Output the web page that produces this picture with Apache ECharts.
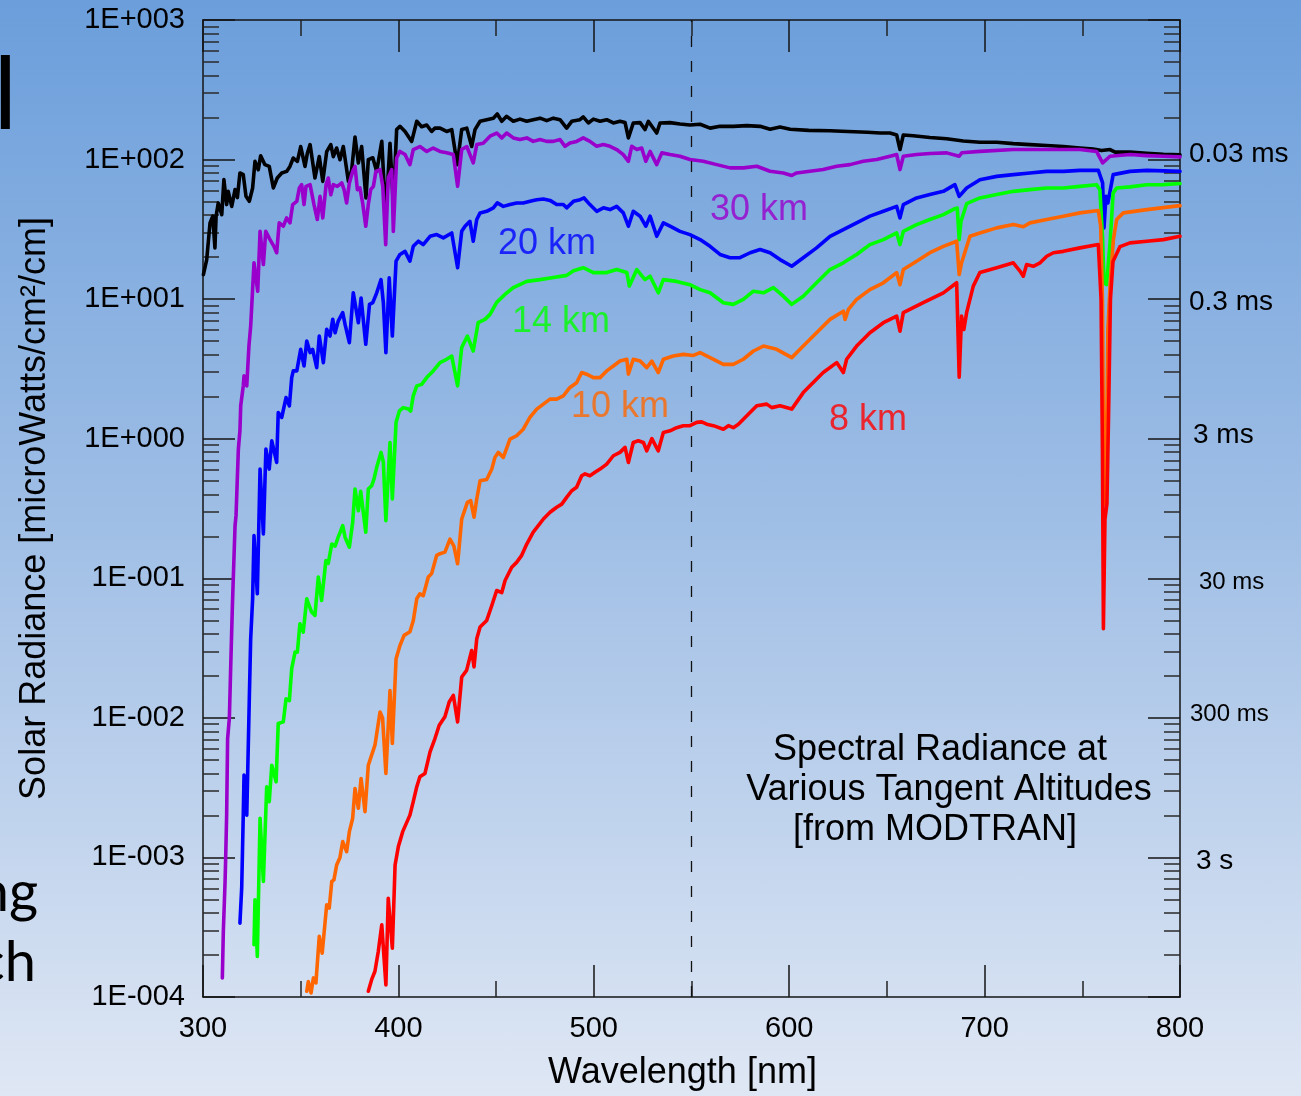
<!DOCTYPE html>
<html>
<head>
<meta charset="utf-8">
<script src="https://cdn.jsdelivr.net/npm/echarts@6/dist/echarts.min.js"></script>
<style>
  html, body { margin: 0; padding: 0; width: 1301px; height: 1096px; overflow: hidden;
    background: linear-gradient(to bottom, #6b9edb 0%, #a2c0e6 50%, #dfe7f4 100%); }
  #chart { width: 1301px; height: 1096px; }
</style>
</head>
<body>
<div id="chart"></div>
<script>
// ---- Axis ranges and tick labels ----
const wavelengthTicks = [300, 400, 500, 600, 700, 800];
const decadeTicks = [1e-4, 1e-3, 1e-2, 1e-1, 1e0, 1e1, 1e2, 1e3];
const decadeLabels = ['1E-004', '1E-003', '1E-002', '1E-001', '1E+000', '1E+001', '1E+002', '1E+003'];
const exposureTicks = [1e2, 1e1, 1e0, 1e-1, 1e-2, 1e-3];
const exposureLabels = ['0.03 ms', '0.3 ms', '3 ms', '30 ms', '300 ms', '3 s'];
const markerWavelength = 550;

// ---- Spectral radiance [microWatts/cm2/cm] vs wavelength [nm] ----
const radianceSolar = [
  [300.2,15.0],[301.9,19.2],[303.6,35.2],[305.0,39.3],[306.1,23.3],[306.7,39.3],[307.8,48.9],[309.6,40.3],[310.7,71.8],[312.1,47.6],
  [312.9,59.2],[314.7,46.2],[316.4,60.9],[317.6,53.4],[318.9,80.2],[320.6,78.0],[322.0,54.5],[323.7,50.2],[325.4,62.6],[326.6,97.0],
  [328.3,84.6],[329.5,106.6],[331.7,91.9],[333.9,89.3],[336.0,62.6],[338.0,73.8],[340.3,80.2],[342.8,82.3],[344.5,89.3],[346.2,102.6],
  [348.3,97.0],[350.0,124],[352.2,89.3],[353.4,111],[354.8,128],[357.3,73.8],[359.5,105],[361.3,69.8],[363.3,114],[365.4,128],
  [366.7,105],[368.4,121],[370.1,99.8],[371.8,124],[374.4,69.8],[376.1,84.6],[377.8,145],[379.5,94.5],[381.2,124],[383.4,53.1],
  [384.6,99.8],[386.9,103],[388.9,82.3],[391.5,135],[393.5,39.3],[395.7,131],[397.4,47.6],[399.1,164],[400.8,173],[403.4,159],
  [406.8,135],[409.4,188],[411.9,172],[414.5,177],[417.0,159],[418.7,168],[421.3,168],[424.7,159],[427.3,164],[430.1,92],
  [432.4,164],[435.0,168],[437.5,124],[439.2,164],[441.8,188],[445.2,193],[448.6,198],[450.6,212],[452.9,188],[455.4,204],
  [458.8,188],[462.2,195],[465.7,188],[469.0,193],[472.5,198],[475.9,190],[479.3,198],[482.7,193],[486.1,168],[488.7,188],
  [492.9,193],[494.6,202],[497.2,183],[499.8,195],[503.2,188],[506.6,193],[510.0,183],[513.4,188],[516.0,184],[517.7,143],
  [520.2,183],[523.7,184],[526.2,164],[527.9,188],[532.2,155],[533.9,183],[539.0,184],[544.1,180],[549.2,177],[554.4,179],
  [559.5,168],[564.6,173],[571.4,173],[578.3,175],[585.1,173],[590.2,165],[595.3,171],[600.5,165],[610.0,162],[620.9,161],
  [630.0,159],[640.0,157],[646.5,155],[651.6,155],[655.0,150],[656.7,118],[658.4,150],[663.5,148],[672.0,144],[680.6,141],
  [689.1,136],[697.6,133],[706.2,133],[714.7,130],[723.2,128],[731.8,126],[740.3,124],[748.8,121],[755.6,119],[759.9,116],
  [764.2,118],[766.8,113],[774.4,113],[783.0,111],[791.5,109],[800.0,108]
];

const radiance30km = [
  [309.9,1.37e-4],[310.4,2.95e-4],[311.3,6.72e-4],[311.6,9.87e-4],[312.1,2.01e-3],[312.6,7.11e-3],[313.5,1.0e-2],[314.2,2.38e-2],
  [315.0,6.05e-2],[315.5,0.1],[316.4,0.238],[316.9,0.281],[318.1,0.842],[318.9,1.14],[319.3,1.72],[320.6,2.39],[321.0,2.82],
  [322.4,2.39],[323.5,4.61],[324.4,6.41],[325.4,6.59],[326.1,18.2],[327.1,18.2],[328.0,11.4],[329.2,30.6],[330.9,17.7],
  [332.1,30.6],[334.3,26.7],[336.3,23.9],[337.7,21.5],[339.0,35.2],[341.1,33.3],[342.8,38.2],[344.5,35.2],[345.9,47.6],
  [348.0,50.2],[349.3,62.6],[350.5,66.1],[351.7,47.6],[352.7,64.3],[354.8,66.1],[356.8,47.6],[358.5,37.2],[359.9,54.5],
  [361.3,38.2],[363.0,66.1],[364.1,73.8],[365.4,56.0],[366.7,66.1],[368.7,64.3],[371.0,68.0],[372.2,60.9],[373.5,48.9],
  [374.9,68.0],[376.6,82.3],[377.8,89.3],[379.0,60.9],[380.3,62.6],[381.7,48.9],[383.3,33.3],[384.6,47.6],[385.8,60.9],
  [387.2,64.3],[388.5,82.3],[390.6,84.6],[392.0,64.3],[393.5,24.6],[394.8,73.8],[396.6,84.6],[397.4,30.6],[399.1,102.6],
  [400.8,114.4],[403.4,108.6],[405.9,91.9],[407.6,117.9],[411.0,124],[414.5,114.4],[417.8,121],[421.3,114.4],[424.7,111.7],
  [428.1,108.6],[430.3,64.3],[432.4,118],[435.0,124],[438.3,94.6],[440.1,128],[443.4,131],[446.9,147],[450.3,155],[452.9,143],
  [455.4,155],[458.8,143],[462.2,139],[465.7,143],[469.0,135],[472.5,139],[475.9,135],[479.3,135],[482.7,139],[485.3,124.5],
  [487.8,131.6],[491.2,135],[494.6,143],[498.0,135],[501.5,124.5],[504.9,128],[508.3,124.5],[511.7,118],[515.1,108.6],[517.7,97.2],
  [519.4,124.5],[522.0,118],[524.5,121],[526.6,97.2],[528.8,114.4],[532.2,92],[534.8,111.7],[539.0,108.6],[544.1,105.6],[549.2,100],
  [556.0,97.2],[562.9,92],[569.7,87.2],[576.5,87.2],[583.4,89.6],[590.2,82.4],[597.0,80.2],[601.3,76.9],[603.8,80.2],[610.6,82.4],
  [617.4,84.8],[624.3,89.6],[631.1,92],[637.9,97.2],[644.8,100],[651.6,105.6],[655.0,108.6],[656.7,84.8],[658.4,105.6],[665.2,108.6],
  [672.0,110.4],[680.6,111.7],[687.0,105.6],[688.4,112],[697.6,114.4],[714.7,118],[731.8,118],[748.8,118],[757.3,114.4],[760.4,94.6],
  [764.2,105.6],[774.4,108.6],[783.0,106.8],[791.5,105.6],[800.0,104.6]
];

const radiance20km = [
  [318.9,3.38e-4],[319.8,6.02e-4],[320.6,2.01e-3],[321.0,3.89e-3],[322.4,2.01e-3],[323.7,1.37e-2],[324.4,3.69e-2],[325.4,7.13e-2],
  [326.1,0.202],[327.8,7.74e-2],[329.2,0.606],[330.9,0.208],[332.2,0.842],[333.9,0.606],[335.2,0.966],[337.7,0.676],[338.5,1.54],
  [340.3,1.42],[342.5,1.97],[344.2,1.72],[345.4,2.74],[346.2,3.06],[348.0,3.06],[350.0,4.37],[351.7,3.32],[353.1,5.01],[354.8,4.14],
  [356.1,4.37],[358.2,3.23],[359.5,5.44],[361.6,3.51],[363.3,6.07],[365.0,5.44],[366.4,7.16],[367.6,5.75],[369.2,6.96],[371.5,8.0],
  [372.7,6.59],[374.9,4.88],[376.9,11.1],[379.5,6.78],[380.9,10.2],[383.3,4.75],[385.2,9.17],[386.9,9.43],[388.9,11.1],[391.1,13.8],
  [392.3,9.43],[393.6,4.14],[395.3,14.2],[396.9,5.44],[398.8,18.7],[400.8,20.9],[403.4,22.0],[405.9,18.7],[407.6,23.9],[410.2,26.0],
  [412.7,24.6],[416.2,28.2],[419.6,29.0],[423.0,27.5],[427.3,29.8],[430.3,16.8],[432.4,30.6],[434.1,33.3],[436.6,36.1],[438.3,26.0],
  [440.1,37.2],[441.8,41.5],[445.2,42.6],[448.6,45.1],[450.6,48.9],[453.7,46.2],[457.1,47.6],[460.5,48.9],[463.9,48.9],[467.4,50.2],
  [470.8,51.6],[474.2,52.2],[477.6,51.0],[481.0,47.6],[484.4,47.6],[486.1,45.1],[489.6,50.2],[493.0,51.6],[495.0,53.1],[498.0,47.6],
  [501.5,42.6],[504.9,45.1],[508.3,43.8],[511.7,46.2],[515.1,41.5],[517.7,33.3],[520.2,42.6],[523.7,39.3],[526.6,33.3],[528.8,39.3],
  [532.2,28.2],[535.6,35.2],[539.0,33.3],[544.1,30.6],[549.2,29.0],[554.4,26.7],[559.5,23.9],[564.6,20.9],[569.7,19.8],[574.8,19.8],
  [580.0,21.5],[585.1,22.7],[590.2,21.5],[595.3,19.2],[601.3,17.2],[607.2,19.8],[614.0,23.3],[620.9,28.2],[627.7,31.5],[634.5,35.2],
  [641.3,39.3],[648.2,42.6],[655.0,46.2],[656.7,38.2],[658.4,47.6],[665.2,53.1],[672.0,56.1],[678.9,59.2],[684.8,66.1],[687.0,54.5],
  [690.8,62.6],[697.6,71.8],[706.2,75.8],[714.7,78.0],[723.2,80.2],[731.8,82.3],[740.3,82.3],[748.8,83.7],[758.2,83.7],[760.4,68.0],
  [761.1,32.4],[762.1,54.5],[763.1,48.9],[765.8,78.0],[774.4,82.3],[783.0,83.7],[800.0,82.3]
];

const radiance14km = [
  [326.1,2.37e-4],[326.6,4.97e-4],[327.8,1.95e-4],[329.2,1.91e-3],[330.9,6.72e-4],[332.6,3.21e-3],[333.9,2.51e-3],[335.2,4.58e-3],
  [337.4,3.48e-3],[338.5,9.10e-3],[341.1,9.36e-3],[342.5,1.37e-2],[344.2,1.33e-2],[345.4,2.25e-2],[347.1,2.96e-2],[348.3,2.96e-2],
  [349.6,4.72e-2],[351.3,4.12e-2],[353.1,7.13e-2],[353.9,6.6e-2],[355.6,5.73e-2],[357.3,5.42e-2],[359.0,0.102],[360.7,6.93e-2],
  [362.9,0.134],[364.1,0.128],[365.9,0.176],[367.6,0.17],[369.2,0.197],[371.5,0.238],[372.7,0.197],[374.9,0.167],[376.6,0.252],
  [377.8,0.436],[379.5,0.305],[380.7,0.42],[383.3,0.214],[384.6,0.436],[386.3,0.46],[387.5,0.514],[388.9,0.624],[391.1,0.798],
  [392.3,0.68],[393.6,0.259],[395.7,0.94],[396.9,0.37],[398.8,1.31],[400.5,1.58],[402.5,1.67],[405.1,1.63],[406.3,1.58],[407.6,2.03],
  [409.4,2.39],[411.9,2.45],[414.5,2.74],[417.8,3.06],[421.3,3.51],[424.7,3.71],[427.3,3.91],[430.3,2.39],[432.4,4.5],[435.3,5.44],
  [438.3,4.25],[440.8,6.78],[444.3,7.16],[446.9,7.78],[450.3,9.48],[454.5,10.8],[458.8,12.1],[465.7,13.4],[472.5,13.8],[479.3,14.3],
  [486.1,14.8],[489.6,16.0],[494.6,16.8],[499.8,15.5],[506.6,15.5],[511.7,16.3],[516.9,15.5],[518.2,12.4],[522.0,16.3],[526.2,13.8],
  [528.8,14.6],[533.0,11.1],[535.6,13.8],[542.4,13.4],[549.2,12.7],[554.4,11.7],[559.5,11.1],[566.3,9.43],[571.4,9.17],[576.5,9.95],
  [581.7,11.4],[586.8,11.1],[591.9,12.1],[597.0,10.5],[601.3,9.17],[607.2,10.5],[614.0,13.1],[620.9,16.3],[627.7,18.2],[634.5,20.9],
  [641.3,24.6],[648.2,26.7],[655.0,29.8],[656.7,24.6],[658.4,30.6],[665.2,34.2],[672.0,37.2],[678.9,40.3],[684.8,44.5],[686.0,45.0],
  [687.0,26.7],[687.9,36.0],[690.8,48.3],[697.6,53.1],[706.2,56.1],[714.7,59.2],[723.2,60.9],[731.8,62.6],[740.3,62.6],[748.8,64.3],
  [757.3,66.1],[759.0,60.9],[760.4,26.7],[761.1,13.1],[762.4,12.7],[764.2,25.3],[765.8,57.7],[767.6,62.6],[774.4,63.7],[783.0,66.0],
  [791.5,66.1],[800.0,67.3]
];

const radiance10km = [
  [353.1,1.1e-4],[353.9,1.29e-4],[355.3,1.07e-4],[356.5,1.37e-4],[357.8,1.26e-4],[359.5,2.72e-4],[361.0,2.06e-4],[363.3,4.57e-4],
  [364.6,4.33e-4],[365.9,6.72e-4],[367.0,6.9e-4],[368.4,8.83e-4],[370.1,1.0e-3],[371.5,1.30e-3],[373.5,1.10e-3],[374.9,1.53e-3],
  [376.6,1.91e-3],[377.8,3.12e-3],[379.5,2.25e-3],[380.9,3.68e-3],[382.9,2.13e-3],[384.6,4.58e-3],[386.3,5.41e-3],[388.0,6.37e-3],
  [390.6,1.10e-2],[391.9,1.0e-2],[393.6,4.0e-3],[395.7,1.57e-2],[396.9,6.55e-3],[398.8,2.65e-2],[400.8,3.30e-2],[402.9,3.90e-2],
  [405.9,4.14e-2],[407.6,4.97e-2],[409.4,7.13e-2],[411.0,7.74e-2],[412.7,7.5e-2],[415.3,0.102],[417.0,0.108],[419.6,0.146],[421.3,0.15],
  [423.8,0.154],[426.4,0.191],[428.4,0.17],[430.3,0.127],[432.4,0.266],[435.3,0.35],[437.0,0.36],[438.7,0.274],[440.1,0.37],[441.8,0.50],
  [445.2,0.51],[447.8,0.606],[449.4,0.735],[451.1,0.798],[453.7,0.735],[457.1,0.993],[460.5,1.05],[463.9,1.17],[467.3,1.42],[470.8,1.63],
  [474.2,1.77],[477.6,1.92],[481.0,1.92],[484.4,2.03],[487.8,2.33],[491.2,2.52],[493.8,2.98],[496.3,2.90],[499.8,2.74],[503.2,2.74],
  [506.6,3.06],[510.0,3.32],[513.4,3.60],[516.9,3.71],[517.7,2.90],[520.2,3.71],[523.7,3.60],[527.1,3.23],[529.7,3.60],[533.0,2.98],
  [535.6,3.71],[540.7,3.91],[545.8,4.02],[551.0,3.95],[554.4,4.14],[559.5,3.81],[566.3,3.41],[571.4,3.41],[576.5,3.71],[581.7,4.25],
  [586.8,4.61],[593.6,4.37],[601.3,3.81],[607.2,4.61],[614.0,5.75],[620.9,7.16],[627.7,8.20],[628.6,7.16],[630.3,8.45],[634.5,9.95],
  [641.3,11.7],[648.2,13.1],[655.0,15.5],[656.7,12.7],[658.4,16.3],[665.2,18.7],[672.0,21.5],[678.9,23.9],[685.7,26.0],[687.0,15.0],
  [688.2,18.2],[692.5,28.2],[697.6,29.8],[706.2,32.4],[714.7,34.2],[719.8,33.0],[723.2,35.2],[731.8,37.2],[740.3,39.3],[748.8,41.5],
  [758.2,43.1],[759.4,33.3],[760.3,9.95],[761.1,0.34],[762.1,0.37],[763.1,6.07],[764.2,12.4],[765.9,26.7],[767.6,37.2],[771.0,41.5],
  [783.0,43.8],[800.0,46.8]
];

const radiance8km = [
  [384.6,1.1e-4],[386.3,1.33e-4],[388.0,1.53e-4],[389.7,2.12e-4],[391.5,3.29e-4],[393.6,1.22e-4],[394.8,5.10e-4],[395.7,5.25e-4],
  [396.9,2.24e-4],[398.3,8.83e-4],[400.0,1.20e-3],[402.2,1.53e-3],[405.9,2.01e-3],[407.6,2.51e-3],[409.4,3.21e-3],[411.0,3.79e-3],
  [413.6,4.0e-3],[416.2,5.71e-3],[418.7,7.11e-3],[420.9,8.85e-3],[423.8,1.02e-2],[426.0,1.30e-2],[428.1,1.45e-2],[430.3,9.36e-3],
  [432.4,1.96e-2],[434.9,2.19e-2],[437.5,3.04e-2],[438.7,2.32e-2],[440.1,3.69e-2],[441.8,4.48e-2],[445.2,4.99e-2],[447.8,6.38e-2],
  [450.3,8.17e-2],[452.9,7.9e-2],[454.6,9.64e-2],[458.0,0.12],[460.5,0.13],[463.1,0.146],[465.7,0.176],[469.0,0.214],[471.6,0.238],
  [474.2,0.266],[477.6,0.297],[481.0,0.323],[483.6,0.34],[486.1,0.38],[488.7,0.424],[491.2,0.449],[493.8,0.543],[495.5,0.56],[498.0,0.543],
  [500.6,0.574],[503.2,0.606],[506.6,0.658],[510.0,0.755],[513.4,0.798],[516.0,0.867],[517.7,0.676],[520.2,0.94],[522.8,0.966],[525.4,0.94],
  [527.1,0.819],[529.7,1.0],[533.0,0.819],[535.6,1.11],[539.0,1.14],[542.4,1.2],[545.8,1.24],[549.2,1.24],[552.7,1.31],[555.2,1.32],
  [557.8,1.27],[561.2,1.24],[566.3,1.17],[568.9,1.24],[571.4,1.2],[574.0,1.27],[578.3,1.46],[583.4,1.72],[588.5,1.77],[591.1,1.67],
  [595.3,1.72],[601.3,1.63],[607.2,2.14],[617.4,2.98],[624.3,3.51],[627.7,2.98],[629.4,3.71],[634.5,4.61],[641.3,5.75],[648.2,6.78],
  [655.0,7.56],[656.7,5.9],[658.4,8.0],[668.6,9.43],[678.9,11.1],[685.7,13.1],[687.0,2.76],[688.2,7.56],[689.4,6.07],[690.8,8.0],
  [694.2,12.4],[697.6,15.5],[706.2,16.8],[714.7,18.2],[718.1,15.9],[719.8,14.6],[721.5,17.7],[724.9,17.2],[728.4,18.2],[731.8,20.3],
  [735.2,21.5],[740.3,22.0],[748.8,23.3],[758.2,24.6],[758.8,24.3],[759.6,10.0],[760.3,0.842],[760.8,4.35e-2],[761.6,0.266],[762.6,0.34],
  [763.4,1.38],[764.4,10.0],[765.7,18.6],[769.3,23.8],[774.4,25.3],[783.0,26.0],[791.5,26.7],[800.0,28.2]
];

// ---- Curve annotations (text, anchor wavelength, anchor radiance) ----
const altitudeNames = ['30 km', '20 km', '14 km', '10 km', '8 km'];
const altitudeLabelWl = [584.5, 476.0, 483.2, 513.4, 640.3];
const altitudeLabelVal = [43.8, 25.0, 6.82, 1.68, 1.36];

// ---- Styling ----
const FONT = '"Liberation Sans", Arial, Helvetica, sans-serif';
const SLIDE_FONT = 'Lato, "Open Sans", sans-serif';
const curveColors = ['#000000', '#9900cc', '#0000ff', '#00ff00', '#ff6600', '#ff0000'];
const labelColors = ['#9900cc', '#0000ff', '#00ff00', '#ff6600', '#ff0000'];
const AXIS_COLOR = '#151515';

// minor log ticks: 2..9 within every decade
const minorLogTicks = [];
for (let e = -4; e < 3; e++) {
  for (let k = 2; k <= 9; k++) minorLogTicks.push(+(k * Math.pow(10, e)).toPrecision(3));
}

const decadeIndex = v => Math.round(Math.log10(v));

const chart = echarts.init(document.getElementById('chart'), null, { renderer: 'canvas' });

const curves = [
  { name: 'solar', data: radianceSolar },
  { name: '30 km', data: radiance30km },
  { name: '20 km', data: radiance20km },
  { name: '14 km', data: radiance14km },
  { name: '10 km', data: radiance10km },
  { name: '8 km', data: radiance8km }
];

const lineSeries = curves.map((c, i) => ({
  type: 'line',
  name: c.name,
  data: c.data,
  xAxisIndex: 0,
  yAxisIndex: 0,
  showSymbol: false,
  symbol: 'none',
  z: 3 + i,
  lineStyle: { color: curveColors[i], width: 3.6, join: 'round', cap: 'round' },
  markLine: i === 0 ? {
    silent: true,
    symbol: ['none', 'none'],
    label: { show: false },
    lineStyle: { color: '#111', width: 1.3, type: [11, 14] },
    data: [{ xAxis: markerWavelength }]
  } : undefined
}));

const labelSeries = {
  type: 'scatter',
  xAxisIndex: 0,
  yAxisIndex: 0,
  symbolSize: 0,
  z: 20,
  silent: true,
  data: altitudeNames.map((n, i) => ({
    name: n,
    value: [altitudeLabelWl[i], altitudeLabelVal[i]],
    label: { color: labelColors[i] }
  })),
  label: {
    show: true,
    position: 'inside',
    formatter: p => p.name,
    fontSize: 36,
    fontFamily: FONT
  }
};

const xCommon = {
  type: 'value', min: 300, max: 800, interval: 100,
  splitLine: { show: false },
  minorSplitLine: { show: false },
  axisLine: { show: true, lineStyle: { color: AXIS_COLOR, width: 1.5 } },
  axisTick: { show: true, inside: true, length: 32, lineStyle: { color: AXIS_COLOR, width: 1.5 } },
  minorTick: { show: true, splitNumber: 2, length: 16, lineStyle: { color: '#222', width: 1.5 } }
};

const yCommon = {
  type: 'log', logBase: 10, min: 1e-4, max: 1e3,
  splitLine: { show: false },
  minorSplitLine: { show: false }
};

const richExposure = {
  t0: { fontSize: 28, fontFamily: FONT, color: '#000', padding: [0, 0, 10, 0] },
  t1: { fontSize: 28, fontFamily: FONT, color: '#000', padding: [6, 0, 0, 0] },
  t2: { fontSize: 28, fontFamily: FONT, color: '#000', padding: [0, 0, 6, 4] },
  t3: { fontSize: 24, fontFamily: FONT, color: '#000', padding: [8, 0, 0, 10] },
  t4: { fontSize: 24, fontFamily: FONT, color: '#000', padding: [0, 0, 6, 1] },
  t5: { fontSize: 28, fontFamily: FONT, color: '#000', padding: [8, 0, 0, 7] }
};

const noteLines = ['Spectral Radiance at', 'Various Tangent Altitudes', '[from MODTRAN]'];
const noteCenters = [940, 949, 935];

const option = {
  animation: false,
  backgroundColor: 'transparent',
  textStyle: { fontFamily: FONT },
  grid: { left: 203, top: 20, width: 977, height: 979, containLabel: false },
  xAxis: [
    Object.assign({}, xCommon, {
      position: 'bottom',
      axisLabel: { show: true, fontSize: 29, color: '#000', fontFamily: FONT, margin: 17,
        formatter: v => String(wavelengthTicks[wavelengthTicks.indexOf(v)]) },
      name: 'Wavelength [nm]',
      nameLocation: 'middle',
      nameGap: 58,
      nameTextStyle: { fontSize: 36, color: '#000', fontFamily: FONT, padding: [0, 18, 0, 0] }
    }),
    Object.assign({}, xCommon, {
      position: 'top',
      axisLabel: { show: false }
    })
  ],
  yAxis: [
    Object.assign({}, yCommon, {
      position: 'left',
      axisLine: { show: true, lineStyle: { color: AXIS_COLOR, width: 1.5 } },
      axisTick: { show: true, inside: true, length: 32, customValues: decadeTicks,
        lineStyle: { color: AXIS_COLOR, width: 1.5 } },
      minorTick: { show: false },
      axisLabel: { show: true, customValues: decadeTicks, fontSize: 29, color: '#000', fontFamily: FONT, margin: 18,
        formatter: v => decadeLabels[decadeIndex(v) + 4] },
      name: 'Solar Radiance [microWatts/cm²/cm]',
      nameLocation: 'middle',
      nameGap: 150,
      nameTextStyle: { fontSize: 36, color: '#000', fontFamily: FONT }
    }),
    Object.assign({}, yCommon, {
      position: 'left',
      axisLine: { show: false },
      axisTick: { show: true, inside: true, length: 16, customValues: minorLogTicks,
        lineStyle: { color: '#2a2a2a', width: 1.5 } },
      minorTick: { show: false },
      axisLabel: { show: false }
    }),
    Object.assign({}, yCommon, {
      position: 'right',
      axisLine: { show: true, lineStyle: { color: AXIS_COLOR, width: 1.5 } },
      axisTick: { show: true, inside: true, length: 32, customValues: decadeTicks,
        lineStyle: { color: AXIS_COLOR, width: 1.5 } },
      minorTick: { show: false },
      axisLabel: { show: true, customValues: exposureTicks, margin: 9, align: 'left',
        formatter: v => {
          const i = exposureTicks.findIndex(t => decadeIndex(t) === decadeIndex(v));
          return '{t' + i + '|' + exposureLabels[i] + '}';
        },
        rich: richExposure }
    }),
    Object.assign({}, yCommon, {
      position: 'right',
      axisLine: { show: false },
      axisTick: { show: true, inside: true, length: 16, customValues: minorLogTicks,
        lineStyle: { color: '#2a2a2a', width: 1.5 } },
      minorTick: { show: false },
      axisLabel: { show: false }
    })
  ],
  graphic: noteLines.map((t, i) => ({
    type: 'text', x: noteCenters[i], y: 732 + i * 40, z: 30,
    style: { text: t, font: '36px ' + FONT, fill: '#000', textAlign: 'center', textVerticalAlign: 'top' }
  })).concat([
    { type: 'text', x: -6, y: 50, z: 30,
      style: { text: 'l', font: '102px ' + FONT, fill: '#000', textVerticalAlign: 'top' } },
    { type: 'text', x: 38, y: 893, z: 30,
      style: { text: 'ng', font: '56px ' + SLIDE_FONT, fill: '#000', textAlign: 'right', textVerticalAlign: 'middle' } },
    { type: 'text', x: 36, y: 963, z: 30,
      style: { text: 'ch', font: '56px ' + SLIDE_FONT, fill: '#000', textAlign: 'right', textVerticalAlign: 'middle' } }
  ]),
  series: lineSeries.concat([labelSeries])
};

chart.setOption(option);
</script>
</body>
</html>
